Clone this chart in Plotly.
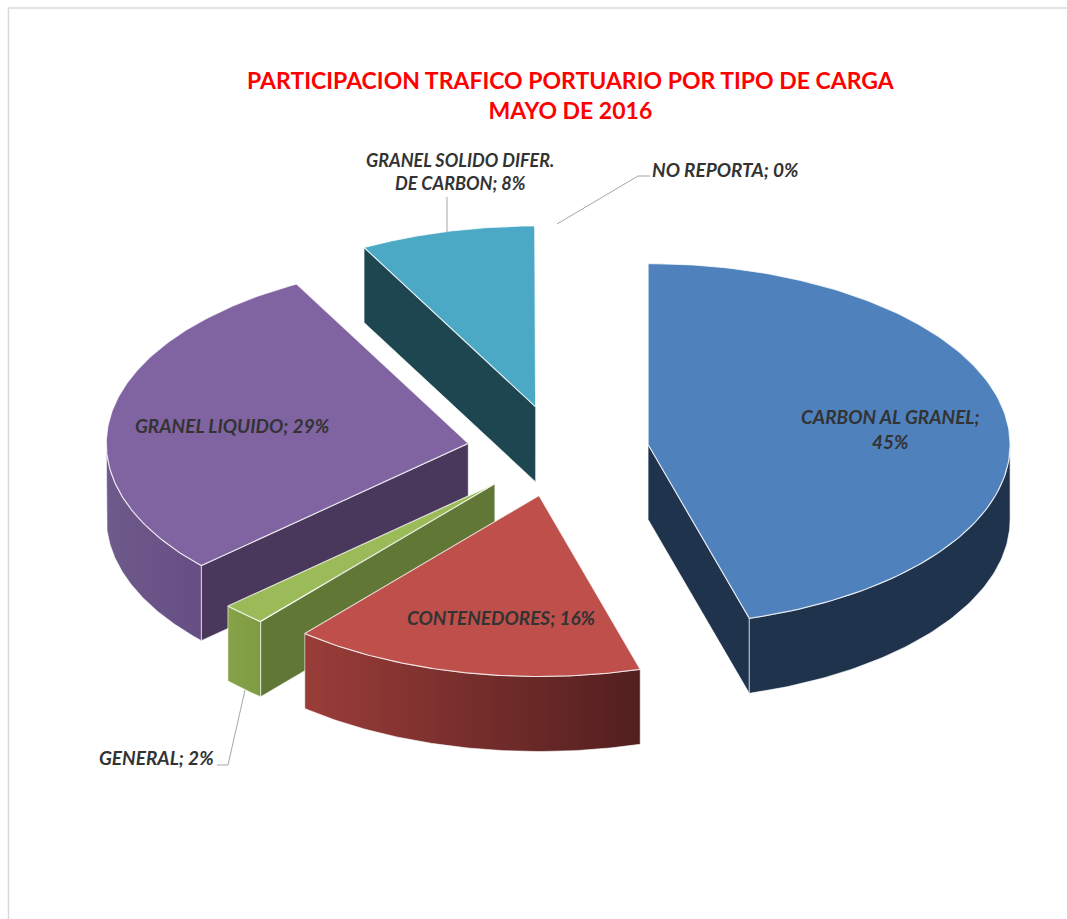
"""Exploded 3D-look pie: port traffic share by cargo type, May 2016."""

import numpy as np
import plotly.graph_objects as go

# ---------------------------------------------------------------------------
# Data
# ---------------------------------------------------------------------------
CATEGORIES = ["CARBON AL GRANEL", "CONTENEDORES", "GENERAL", "GRANEL LIQUIDO",
              "GRANEL SOLIDO DIFER. DE CARBON", "NO REPORTA"]
SHARES = [45.49, 15.71, 2.0, 28.94, 7.82, 0.04]
TITLE_LINES = ["PARTICIPACION TRAFICO PORTUARIO POR TIPO DE CARGA", "MAYO DE 2016"]

# ---------------------------------------------------------------------------
# Colors
# ---------------------------------------------------------------------------
TOP_COLORS = ["#4F81BD", "#BE4F4B", "#9BBB59", "#8064A2", "#4BA9C5", "#F79646"]
WALL_COLORS = ["#1F334D", "#521F1F", "#607736", "#49375C", "#1E4650", "#974806"]
RIM_GRADIENTS = [
    ("#1F334D", "#1F334D"),
    ("#9A3D39", "#521F1F"),
    ("#86A348", "#7F9B43"),
    ("#6F5A8C", "#664E82"),
    ("#1E4650", "#1E4650"),
    ("#974806", "#974806"),
]
EDGE_COLOR = "rgba(255,255,255,0.75)"
TEXT_COLOR = "#333333"
LEADER_COLOR = "#A6A6A6"
FONT_FAMILY = "Lato"

# ---------------------------------------------------------------------------
# Projection of the tilted pie, in window pixels
# ---------------------------------------------------------------------------
CENTER_X, CENTER_Y = 558, 451
RADIUS_X, RADIUS_Y = 362, 181
EXPLODE = 91
DEPTH = 75
DRAW_ORDER = [4, 3, 2, 1, 0]   # back to front


def project(apex, theta):
    return (apex[0] + RADIUS_X * np.sin(theta), apex[1] - RADIUS_Y * np.cos(theta))


def add_wall(fig, apex, theta, color):
    rx, ry = project(apex, theta)
    fig.add_trace(go.Scatter(
        x=[apex[0], rx, rx, apex[0], apex[0]],
        y=[apex[1], ry, ry + DEPTH, apex[1] + DEPTH, apex[1]],
        mode="lines", fill="toself", fillcolor=color,
        line=dict(color=EDGE_COLOR, width=0.8),
        hoverinfo="skip", showlegend=False,
    ))


fractions = np.array(SHARES) / sum(SHARES)
ends = np.cumsum(fractions) * 2 * np.pi
starts = ends - fractions * 2 * np.pi

fig = go.Figure()

for i in DRAW_ORDER:
    start, end = starts[i], ends[i]
    middle = (start + end) / 2
    apex = (CENTER_X + EXPLODE * np.sin(middle), CENTER_Y - EXPLODE * 0.5 * np.cos(middle))

    # Cut faces: only the ones turned towards the viewer
    if np.sin(start) < -1e-6:
        add_wall(fig, apex, start, WALL_COLORS[i])
    if np.sin(end) > 1e-6:
        add_wall(fig, apex, end, WALL_COLORS[i])

    # Outer rim, only the part that faces the viewer
    rim_start, rim_end = max(start, np.pi / 2), min(end, 3 * np.pi / 2)
    if rim_end > rim_start:
        arc = np.linspace(rim_start, rim_end, 80)
        rx, ry = project(apex, arc)
        left, right = RIM_GRADIENTS[i]
        fig.add_trace(go.Scatter(
            x=np.r_[rx, rx[::-1], rx[0]],
            y=np.r_[ry, ry[::-1] + DEPTH, ry[0]],
            mode="lines", fill="toself",
            fillgradient=dict(type="horizontal", colorscale=[[0, left], [1, right]]),
            line=dict(color=EDGE_COLOR, width=0.8),
            hoverinfo="skip", showlegend=False,
        ))

    # Top face
    arc = np.linspace(start, end, 160)
    rx, ry = project(apex, arc)
    fig.add_trace(go.Scatter(
        x=np.r_[apex[0], rx, apex[0]],
        y=np.r_[apex[1], ry, apex[1]],
        mode="lines", fill="toself", fillcolor=TOP_COLORS[i],
        line=dict(color=EDGE_COLOR, width=1.2),
        name=CATEGORIES[i], text=f"{CATEGORIES[i]}: {SHARES[i]:.0f}%",
        hoverinfo="text", showlegend=False,
    ))

# Leader lines
for xs, ys in [
    ([557, 638, 650], [224, 176, 176]),
    ([447, 447], [197, 232]),
    ([245, 228, 217], [690, 765, 765]),
]:
    fig.add_trace(go.Scatter(x=xs, y=ys, mode="lines", hoverinfo="skip", showlegend=False,
                             line=dict(color=LEADER_COLOR, width=1)))

annotations = [
    (890, 429, "<b><i>CARBON AL GRANEL;<br>45%</i></b>", 19),
    (501, 617, "<b><i>CONTENEDORES; 16%</i></b>", 19),
    (156, 757, "<b><i>GENERAL; 2%</i></b>", 19),
    (232, 425, "<b><i>GRANEL LIQUIDO; 29%</i></b>", 19),
    (460, 171, "<b><i>GRANEL SOLIDO DIFER.<br>DE CARBON; 8%</i></b>", 18),
    (725, 169, "<b><i>NO REPORTA; 0%</i></b>", 19),
]
for x, y, text, size in annotations:
    fig.add_annotation(x=x, y=y, text=text, showarrow=False, align="center",
                       font=dict(family=FONT_FAMILY, size=size, color=TEXT_COLOR),
                       xanchor="center", yanchor="middle")

fig.add_annotation(
    x=571, y=95, text="<b>" + "<br>".join(TITLE_LINES) + "</b>", showarrow=False,
    align="center", xanchor="center", yanchor="middle",
    font=dict(family=FONT_FAMILY, size=23, color="#FF0000"),
)

# Chart-area frame: only top and left show in the window
fig.add_shape(type="line", x0=8.5, x1=8.5, y0=8, y1=919, line=dict(color="#D9D9D9", width=1.5))
fig.add_shape(type="line", x0=8, x1=1067, y0=8, y1=8, line=dict(color="#D9D9D9", width=1.5))

fig.update_layout(
    width=1067, height=919,
    margin=dict(l=0, r=0, t=0, b=0),
    paper_bgcolor="white", plot_bgcolor="white",
    xaxis=dict(range=[0, 1067], visible=False, fixedrange=True),
    yaxis=dict(range=[919, 0], visible=False, fixedrange=True),
    font=dict(family=FONT_FAMILY),
)

fig.write_html("out.html", post_script="document.body.style.margin='0';",
               config=dict(displayModeBar=False))
